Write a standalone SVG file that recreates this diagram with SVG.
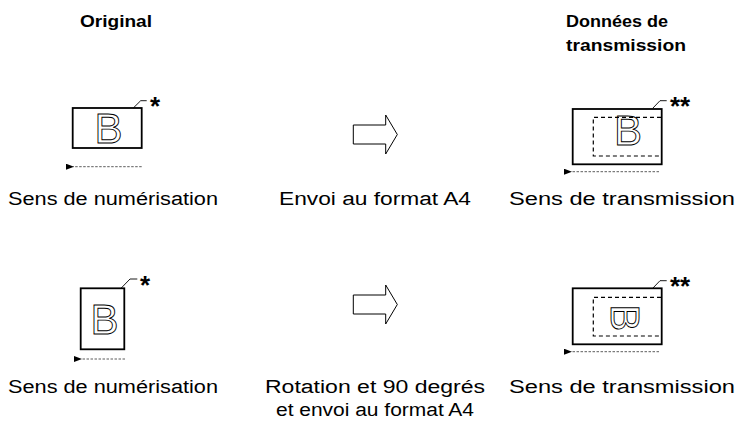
<svg xmlns="http://www.w3.org/2000/svg" width="738" height="423" viewBox="0 0 738 423">
<defs>
<marker id="ah" viewBox="0 0 8 6" refX="1" refY="3" markerWidth="8" markerHeight="6" orient="auto-start-reverse" markerUnits="userSpaceOnUse">
<path d="M0,3 L8,0 L8,6 Z" fill="#000"/>
</marker>
<style>
.page{fill:#fff;stroke:#000;stroke-width:1.8}
.dash{fill:none;stroke:#000;stroke-width:1.2;stroke-dasharray:4,3}
.scan{fill:none;stroke:#333;stroke-width:0.8;stroke-dasharray:2.5,1.5}
.lead{fill:none;stroke:#000;stroke-width:0.9}
.big{fill:#fff;stroke:#000;stroke-width:1}
.glyph{font-family:"Liberation Sans",Arial,sans-serif;font-size:42px;fill:none;stroke:#000;stroke-width:0.9}
.star{font-family:"Liberation Sans",Arial,sans-serif;font-size:26px;font-weight:bold;fill:#000}
.lbl{font-family:"Liberation Sans",Arial,sans-serif;font-size:18px;fill:#000;text-anchor:middle}
.hdr{font-family:"Liberation Sans",Arial,sans-serif;font-size:17px;font-weight:bold;fill:#000}
</style>
</defs>
<rect width="738" height="423" fill="#fff"/>

<g id="headers">
<text class="hdr" x="80" y="27" textLength="72" lengthAdjust="spacingAndGlyphs">Original</text>
<text class="hdr" x="566" y="27" textLength="102" lengthAdjust="spacingAndGlyphs">Données de</text>
<text class="hdr" x="566" y="51" textLength="120" lengthAdjust="spacingAndGlyphs">transmission</text>
</g>

<g id="orig1">
<rect class="page" x="72.7" y="108" width="69" height="40"/>
<text class="glyph" x="94.5" y="143">B</text>
<polyline class="lead" points="133.3,108 140.7,100.7 146.7,100.7"/>
<text class="star" x="150" y="115">*</text>
<line class="scan" x1="141.7" y1="166.7" x2="73" y2="166.7" marker-end="url(#ah)"/>
<text class="lbl" x="113" y="205" textLength="210" lengthAdjust="spacingAndGlyphs">Sens de numérisation</text>
</g>

<g id="arrow1">
<polygon class="big" points="353.3,125 385.7,125 385.7,115 397.3,134.5 385.7,154 385.7,144 353.3,144"/>
<text class="lbl" x="375" y="205" textLength="192" lengthAdjust="spacingAndGlyphs">Envoi au format A4</text>
</g>

<g id="trans1">
<rect class="page" x="572.7" y="109" width="89" height="55.3"/>
<polyline class="dash" points="661,117.3 593.3,117.3 593.3,156 661,156"/>
<text class="glyph" x="614" y="145">B</text>
<polyline class="lead" points="652.7,108.3 660,100.7 666.7,100.7"/>
<text class="star" x="670" y="115">**</text>
<line class="scan" x1="659" y1="171.7" x2="571" y2="171.7" marker-end="url(#ah)"/>
<text class="lbl" x="622" y="205" textLength="226" lengthAdjust="spacingAndGlyphs">Sens de transmission</text>
</g>

<g id="orig2">
<rect class="page" x="80.7" y="288.3" width="43.6" height="61"/>
<text class="glyph" x="90.5" y="334">B</text>
<polyline class="lead" points="121,288.3 130,279 137.3,279"/>
<text class="star" x="140" y="294">*</text>
<line class="scan" x1="125" y1="359" x2="81" y2="359" marker-end="url(#ah)"/>
<text class="lbl" x="113" y="393" textLength="210" lengthAdjust="spacingAndGlyphs">Sens de numérisation</text>
</g>

<g id="arrow2">
<polygon class="big" points="353.3,295 385.7,295 385.7,285 397.3,304.5 385.7,324 385.7,314 353.3,314"/>
<text class="lbl" x="375" y="393" textLength="220" lengthAdjust="spacingAndGlyphs">Rotation et 90 degrés</text>
<text class="lbl" x="375" y="416" textLength="198" lengthAdjust="spacingAndGlyphs">et envoi au format A4</text>
</g>

<g id="trans2">
<rect class="page" x="572.7" y="288.3" width="89" height="56"/>
<polyline class="dash" points="661,297.3 593.3,297.3 593.3,336 661,336"/>
<text class="glyph" transform="translate(611,304.5) rotate(90)" x="0" y="0" style="font-size:40px">B</text>
<polyline class="lead" points="652.7,288.3 660,280.7 666.7,280.7"/>
<text class="star" x="670" y="295">**</text>
<line class="scan" x1="659" y1="351.7" x2="571" y2="351.7" marker-end="url(#ah)"/>
<text class="lbl" x="622" y="393" textLength="226" lengthAdjust="spacingAndGlyphs">Sens de transmission</text>
</g>
</svg>
